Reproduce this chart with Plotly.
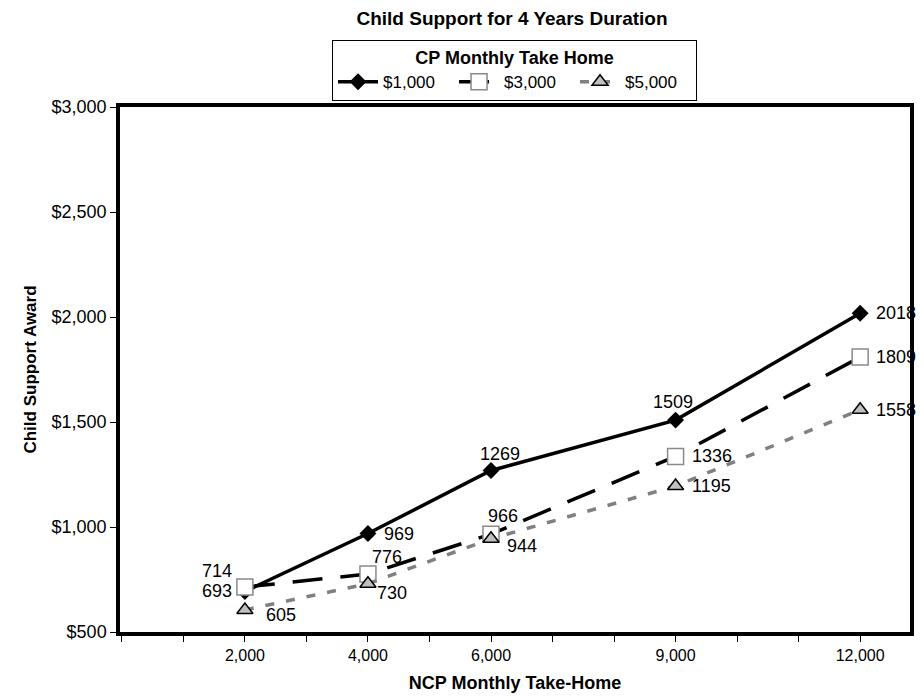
import plotly.graph_objects as go

ncp_income = [2000, 4000, 6000, 9000, 12000]
x_tick_labels = ["2,000", "4,000", "6,000", "9,000", "12,000"]
series_names = ["$1,000", "$3,000", "$5,000"]
award_1000 = [693, 969, 1269, 1509, 2018]
award_3000 = [714, 776, 966, 1336, 1809]
award_5000 = [605, 730, 944, 1195, 1558]

# label offsets (pixels) for the value annotations
offsets_1000 = [(-28, 0), (31, 0), (9, 17), (-3, 18), (36, 0)]
offsets_3000 = [(-28, 16), (19, 17), (12, 18), (36, 0), (36, 0)]
offsets_5000 = [(36, -5), (24, -9), (31, -7), (36, 0), (36, 0)]

FONT = "Liberation Sans, Arial, sans-serif"

# page has an 8px body margin; figure sized to fit the 924x696 window
W, H = 916, 688

fig = go.Figure()
fig.add_trace(go.Scatter(
    x=ncp_income, y=award_1000, name=series_names[0], mode="lines+markers",
    line=dict(color="black", width=3.5),
    marker=dict(symbol="diamond", size=13, color="black"),
))
fig.add_trace(go.Scatter(
    x=ncp_income, y=award_3000, name=series_names[1], mode="lines+markers",
    line=dict(color="black", width=3.5, dash="30px,18px"),
    marker=dict(symbol="square", size=16, color="white", line=dict(color="#8a8a8a", width=1.5)),
))
fig.add_trace(go.Scatter(
    x=ncp_income, y=award_5000, name=series_names[2], mode="lines+markers",
    line=dict(color="#808080", width=3.5, dash="9px,12px"),
    marker=dict(symbol="triangle-up", size=14, color="#c0c0c0", line=dict(color="black", width=1.5)),
))

annotations = []
for vals, offs in [(award_1000, offsets_1000), (award_3000, offsets_3000), (award_5000, offsets_5000)]:
    for xv, yv, (dx, dy) in zip(ncp_income, vals, offs):
        annotations.append(dict(
            x=xv, y=yv, text=str(yv), showarrow=False,
            xshift=dx, yshift=dy, font=dict(family=FONT, size=18, color="black"),
        ))

fig.update_layout(
    width=W, height=H,
    margin=dict(l=112, r=14, t=99, b=64),
    paper_bgcolor="white", plot_bgcolor="white",
    font=dict(family=FONT, color="black"),
    title=dict(text="<b>Child Support for 4 Years Duration</b>", x=(512 - 8) / W, xanchor="center",
               y=1 - 10 / H, yanchor="middle", font=dict(size=19, family=FONT)),
    annotations=annotations,
    showlegend=True,
    legend=dict(
        orientation="h", x=0.4994, xanchor="center", y=1.128, yanchor="top",
        bordercolor="black", borderwidth=1, bgcolor="white",
        title=dict(text="<b>CP Monthly Take Home</b>", side="top center", font=dict(size=18)),
        font=dict(size=17), itemwidth=40, entrywidth=66,
        tracegroupgap=0,
    ),
    xaxis=dict(
        range=[-30, 12810], showgrid=False, zeroline=False,
        tickvals=ncp_income, ticktext=x_tick_labels,
        ticks="outside", ticklen=6, tickwidth=1, tickcolor="black",
        minor=dict(dtick=1000, tick0=0, ticks="outside", ticklen=6, tickwidth=1, tickcolor="black"),
        showline=True, linecolor="black", linewidth=3.5, mirror=True,
        tickfont=dict(size=16), automargin=False,
        title=dict(text="<b>NCP Monthly Take-Home</b>", font=dict(size=18), standoff=14),
    ),
    yaxis=dict(
        range=[500, 3000], dtick=500, tick0=500, showgrid=False, zeroline=False,
        tickprefix="$", tickformat=",d",
        ticks="outside", ticklen=6, tickwidth=1, tickcolor="black",
        showline=True, linecolor="black", linewidth=3.5, mirror=True,
        tickfont=dict(size=18), automargin=False,
        title=dict(text="<b>Child Support Award</b>", font=dict(size=17), standoff=12),
    ),
)

fig.write_html("out.html")
